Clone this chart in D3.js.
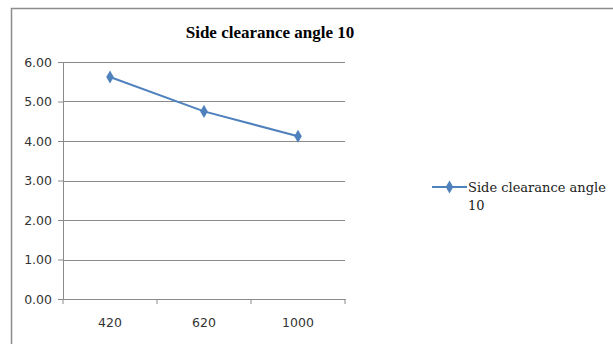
<!DOCTYPE html>
<html>
<head>
<meta charset="utf-8">
<script src="https://cdn.jsdelivr.net/npm/d3@7"></script>
<style>
  body { margin: 0; background: #fff; }
  svg { display: block; }
</style>
</head>
<body>
<svg id="chart" width="613" height="344"></svg>
<script>
// data
var categories = ["420", "620", "1000"];
var values = [5.62, 4.75, 4.12];
var yTicks = [0, 1, 2, 3, 4, 5, 6];
var seriesName = "Side clearance angle 10";

var margin = {top: 62, left: 63},
    width = 282,
    height = 237;

var svg = d3.select("#chart");

// outer chart frame (runs off the right and bottom edges)
svg.append("rect")
    .attr("x", 11.5).attr("y", 8.5)
    .attr("width", 640).attr("height", 400)
    .attr("fill", "#fff")
    .attr("stroke", "#8c8c8c")
    .attr("stroke-width", 1.5);

svg.append("text")
    .attr("x", 270).attr("y", 38)
    .attr("text-anchor", "middle")
    .style("font-family", "'Liberation Serif', serif")
    .style("font-weight", "bold")
    .style("font-size", "17px")
    .text("Side clearance angle 10");

var g = svg.append("g")
    .attr("transform", "translate(" + margin.left + "," + margin.top + ")");

var x = d3.scaleBand().domain(categories).range([0, width]);
var y = d3.scaleLinear().domain([0, 6]).range([height, 0]);

// gridlines
g.selectAll(".grid")
    .data(yTicks.filter(function(d){ return d > 0; }))
  .enter().append("line")
    .attr("x1", 0).attr("x2", width)
    .attr("y1", function(d){ return Math.round(y(d)) + 0.5; })
    .attr("y2", function(d){ return Math.round(y(d)) + 0.5; })
    .attr("stroke", "#8a8a8a");

var yAxis = d3.axisLeft(y).tickValues(yTicks).tickSize(5).tickPadding(6)
    .tickFormat(d3.format(".2f"));
var gy = g.append("g").call(yAxis);
gy.select(".domain").attr("stroke", "#8a8a8a");
gy.selectAll(".tick line").attr("stroke", "#8a8a8a");
gy.selectAll("text")
    .style("font-family", "'DejaVu Sans', sans-serif")
    .style("font-size", "12.5px")
    .attr("fill", "#333");

// x axis with ticks between categories
var xAxis = d3.axisBottom(x).tickSize(0).tickPadding(19);
var gx = g.append("g").attr("transform", "translate(0," + height + ")").call(xAxis);
gx.select(".domain").attr("stroke", "#8a8a8a");
gx.selectAll("text")
    .style("font-family", "'DejaVu Sans', sans-serif")
    .style("font-size", "12.5px")
    .attr("fill", "#333");
gx.selectAll(".sep")
    .data(d3.range(categories.length + 1))
  .enter().append("line")
    .attr("x1", function(i){ return i * x.step(); })
    .attr("x2", function(i){ return i * x.step(); })
    .attr("y1", 0).attr("y2", 5)
    .attr("stroke", "#8a8a8a");

var line = d3.line()
    .x(function(d, i){ return x(categories[i]) + x.bandwidth() / 2; })
    .y(function(d){ return y(d); });

g.append("path")
    .datum(values)
    .attr("d", line)
    .attr("fill", "none")
    .attr("stroke", "#4f81bd")
    .attr("stroke-width", 2);

var diamond = d3.symbol().type(d3.symbolDiamond).size(50);
g.selectAll(".pt")
    .data(values)
  .enter().append("path")
    .attr("d", diamond)
    .attr("transform", function(d, i){
      return "translate(" + (x(categories[i]) + x.bandwidth() / 2) + "," + y(d) + ")";
    })
    .attr("fill", "#4f81bd");

// legend
var lg = svg.append("g").attr("transform", "translate(432,187)");
lg.append("line").attr("x1", 0).attr("x2", 35).attr("y1", 0).attr("y2", 0)
    .attr("stroke", "#4f81bd").attr("stroke-width", 2);
lg.append("path").attr("d", diamond).attr("transform", "translate(17.5,0)")
    .attr("fill", "#4f81bd");
var words = seriesName.split(" ");
var lt = lg.append("text")
    .attr("x", 36).attr("y", 5)
    .style("font-family", "'DejaVu Serif', serif")
    .style("font-size", "13px")
    .attr("fill", "#222");
lt.append("tspan").attr("x", 36).text(words.slice(0, 3).join(" "));
lt.append("tspan").attr("x", 36).attr("dy", 18).text(words[3]);
</script>
</body>
</html>
